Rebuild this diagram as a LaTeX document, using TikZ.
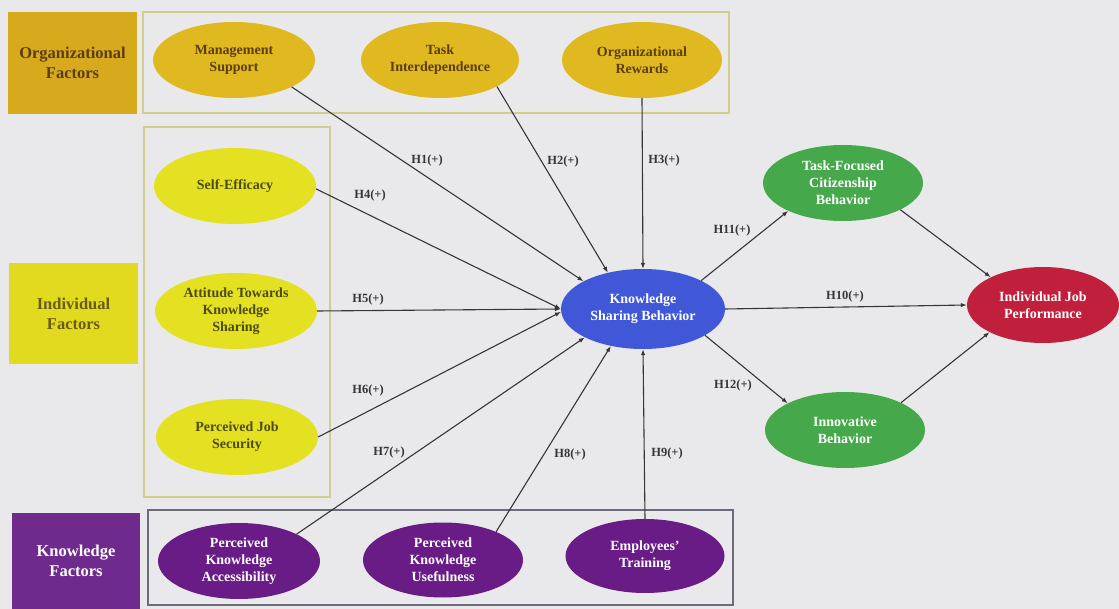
\documentclass[tikz,border=0pt]{standalone}
\usepackage{fontspec}
\setmainfont{Liberation Serif}
\usetikzlibrary{shapes.geometric,arrows.meta}

\definecolor{bgcol}{HTML}{E9E9EB}
\definecolor{orgbox}{HTML}{D6AA1C}
\definecolor{orgfill}{HTML}{E0B820}
\definecolor{orgtext}{HTML}{5C3D10}
\definecolor{indbox}{HTML}{E2DA1E}
\definecolor{indfill}{HTML}{E4E022}
\definecolor{indtext}{HTML}{4E4A14}
\definecolor{indlabel}{HTML}{6A5A12}
\definecolor{knowbox}{HTML}{6E2A8C}
\definecolor{knowfill}{HTML}{6A1C86}
\definecolor{ksbfill}{HTML}{4058D8}
\definecolor{greenfill}{HTML}{45A84A}
\definecolor{redfill}{HTML}{C1203C}
\definecolor{framey}{HTML}{CFCF8C}
\definecolor{framek}{HTML}{6C6C78}
\definecolor{linecol}{HTML}{363636}

\tikzset{
  ell/.style={ellipse, minimum width=162pt, minimum height=76pt, inner sep=0pt,
    align=center, font=\fontsize{14}{17}\selectfont\bfseries},
  orgell/.style={ell, fill=orgfill, text=orgtext},
  indell/.style={ell, fill=indfill, text=indtext},
  knowell/.style={ell, fill=knowfill, text=white},
  catbox/.style={rectangle, inner sep=0pt, align=center,
    font=\fontsize{16.5}{20}\selectfont\bfseries},
  frame/.style={line width=1.2pt},
  arr/.style={draw=linecol, line width=1.1pt, -{Latex[length=6pt,width=4.5pt]}},
  lbl/.style={font=\fontsize{12.5}{14}\selectfont\bfseries, text=linecol, inner sep=1pt}
}

\begin{document}
\begin{tikzpicture}[x=1pt,y=-1pt]
  % canvas
  \fill[bgcol] (0,0) rectangle (1119,609);
  \useasboundingbox (0,0) rectangle (1119,609);

  % group frames
  \draw[frame, framey] (143,12) rectangle (729,113);
  \draw[frame, framey] (144,127) rectangle (330,497);
  \draw[frame, framek] (148,510) rectangle (733,605);

  % category boxes
  \node[catbox, fill=orgbox, text=orgtext, minimum width=129pt, minimum height=102pt]
    (orgcat) at (72.5,63) {Organizational\\Factors};
  \node[catbox, fill=indbox, text=indlabel, minimum width=129pt, minimum height=101pt]
    (indcat) at (73.5,313.5) {Individual\\Factors};
  \node[catbox, fill=knowbox, text=white, minimum width=128pt, minimum height=96pt]
    (knowcat) at (76,561) {Knowledge\\Factors};

  % organizational factors
  \node[orgell] (ms) at (234,60) {Management\\Support};
  \node[orgell, minimum width=158pt] (ti) at (440,60) {Task\\Interdependence};
  \node[orgell, minimum width=160pt] (or) at (642,60) {Organizational\\Rewards};

  % individual factors
  \node[indell] (se) at (235,186) {Self-Efficacy};
  \node[indell] (att) at (236,311) {Attitude Towards\\Knowledge\\Sharing};
  \node[indell] (pjs) at (237,437) {Perceived Job\\Security};

  % knowledge factors
  \node[knowell] (pka) at (239,561) {Perceived\\Knowledge\\Accessibility};
  \node[knowell, minimum width=160pt, minimum height=75pt] (pku) at (443,560) {Perceived\\Knowledge\\Usefulness};
  \node[knowell, minimum width=159pt, minimum height=74pt] (et) at (645,556) {Employees'\\Training};

  % mediator and outcomes
  \node[ell, fill=ksbfill, text=white, minimum width=164pt, minimum height=80pt]
    (ksb) at (643,309) {Knowledge\\Sharing Behavior};
  \node[ell, fill=greenfill, text=white, minimum width=160pt, minimum height=76pt]
    (tfcb) at (843,183) {Task-Focused\\Citizenship\\Behavior};
  \node[ell, fill=greenfill, text=white, minimum width=160pt, minimum height=76pt]
    (inn) at (845,430) {Innovative\\Behavior};
  \node[ell, fill=redfill, text=white, minimum width=152pt, minimum height=76pt]
    (ijp) at (1043,305) {Individual Job\\Performance};

  % hypothesised paths
  \draw[arr] (ms.-25) -- (ksb.155);
  \draw[arr] (ti.-25) -- (ksb.134);
  \draw[arr] (or.south) -- (ksb.north);
  \draw[arr] (se.-2) -- (ksb.west);
  \draw[arr] (att.east) -- (ksb.west);
  \draw[arr] (pjs.east) -- (ksb.182);
  \draw[arr] (pka.25) -- (ksb.206);
  \draw[arr] (pku.28) -- (ksb.229);
  \draw[arr] (et.north) -- (ksb.south);
  \draw[arr] (ksb.east) -- (ijp.west);
  \draw[arr] (ksb.26) -- (tfcb.207);
  \draw[arr] (ksb.-23) -- (inn.155);
  \draw[arr] (tfcb.-25) -- (ijp.152);
  \draw[arr] (inn.26) -- (ijp.207);

  % path labels
  \node[lbl] (h1) at (427,160) {H1(+)};
  \node[lbl] (h2) at (563,161) {H2(+)};
  \node[lbl] (h3) at (664,160) {H3(+)};
  \node[lbl] (h4) at (370,195) {H4(+)};
  \node[lbl] (h5) at (368,299) {H5(+)};
  \node[lbl] (h6) at (368,390) {H6(+)};
  \node[lbl] (h7) at (389,452) {H7(+)};
  \node[lbl] (h8) at (570,454) {H8(+)};
  \node[lbl] (h9) at (667,453) {H9(+)};
  \node[lbl] (h10) at (845,296) {H10(+)};
  \node[lbl] (h11) at (732,230) {H11(+)};
  \node[lbl] (h12) at (733,385) {H12(+)};
\end{tikzpicture}
\end{document}
